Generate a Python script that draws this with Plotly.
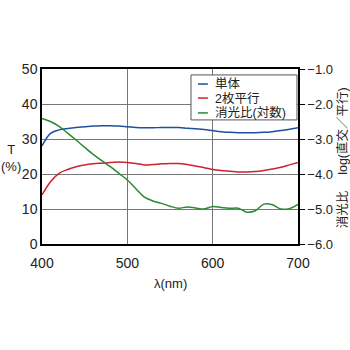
import plotly.graph_objects as go

wavelength = [400, 410, 420, 430, 440, 450, 460, 470, 480, 490, 500, 510, 520, 530, 540, 550, 560,
              570, 580, 590, 600, 610, 620, 630, 640, 650, 660, 670, 680, 690, 700]
single = [28.0, 31.6, 32.6, 33.0, 33.3, 33.5, 33.7, 33.8, 33.8, 33.7, 33.5, 33.3, 33.2, 33.2, 33.3, 33.3, 33.3,
          33.1, 32.9, 32.7, 32.4, 32.1, 31.9, 31.8, 31.8, 31.8, 31.9, 32.1, 32.4, 32.8, 33.2]
parallel = [14.0, 17.8, 20.2, 21.3, 22.1, 22.6, 22.9, 23.1, 23.3, 23.4, 23.3, 23.0, 22.6, 22.7, 22.9, 23.0, 23.0,
            22.7, 22.3, 21.8, 21.3, 21.0, 20.8, 20.6, 20.6, 20.7, 21.0, 21.4, 21.9, 22.6, 23.3]
extinction = [-2.41, -2.50, -2.64, -2.83, -3.03, -3.24, -3.44, -3.62, -3.79, -3.98, -4.17, -4.42, -4.66, -4.77,
              -4.84, -4.92, -4.98, -4.94, -4.97, -5.00, -4.93, -4.96, -4.98, -4.98, -5.09, -5.05, -4.86, -4.88,
              -5.00, -4.99, -4.87]

series_names = ["単体", "2枚平行", "消光比(対数)"]
series_colors = ["#1f4fa0", "#d1202e", "#2a8a35"]

left_ticks = [0, 10, 20, 30, 40, 50]
right_ticks = [-6.0, -5.0, -4.0, -3.0, -2.0, -1.0]
x_ticks = [400, 500, 600, 700]

font = "Liberation Sans, Arial, Noto Sans CJK JP, sans-serif"

fig = go.Figure()
fig.add_trace(go.Scatter(x=wavelength, y=single, mode="lines", name=series_names[0],
                         line=dict(color=series_colors[0], width=1.5, shape="spline")))
fig.add_trace(go.Scatter(x=wavelength, y=parallel, mode="lines", name=series_names[1],
                         line=dict(color=series_colors[1], width=1.5, shape="spline")))
fig.add_trace(go.Scatter(x=wavelength, y=extinction, mode="lines", name=series_names[2], yaxis="y2",
                         line=dict(color=series_colors[2], width=1.5, shape="spline")))

# compact legend box (like the reference)
shapes = [dict(type="rect", xref="paper", yref="paper", x0=0.582, x1=0.996, y0=0.709, y1=0.966,
               fillcolor="white", line=dict(color="#555", width=1), layer="above")]
annotations = []
row_y = [0.914, 0.834, 0.749]
for name, color, yy in zip(series_names, series_colors, row_y):
    shapes.append(dict(type="line", xref="paper", yref="paper", x0=0.609, x1=0.648, y0=yy, y1=yy,
                       line=dict(color=color, width=1.5), layer="above"))
    annotations.append(dict(text=name, xref="paper", yref="paper", x=0.668, y=yy, showarrow=False,
                            xanchor="left", yanchor="middle", font=dict(size=12.5)))

annotations += [
    dict(text="λ(nm)", xref="paper", yref="paper", x=0.5, y=-0.225, showarrow=False,
         font=dict(size=13), xanchor="center", yanchor="middle"),
    dict(text="T<br>(%)", xref="paper", x=-0.12, yref="y", y=24.5, showarrow=False,
         font=dict(size=13), xanchor="center", yanchor="middle"),
    dict(text="消光比　 log(直交／平行)", xref="paper", x=1.172, yref="paper", y=0.49,
         showarrow=False, textangle=-90, font=dict(size=12.5), xanchor="center", yanchor="middle"),
]

fig.update_layout(
    width=350, height=350,
    margin=dict(l=42, r=52, t=69, b=106),
    paper_bgcolor="white", plot_bgcolor="white",
    font=dict(family=font, size=14, color="#222"),
    showlegend=False,
    xaxis=dict(range=[400, 700], tickvals=x_ticks, showgrid=True, gridcolor="#777", gridwidth=1,
               showline=True, linecolor="black", linewidth=1.5, mirror=True, ticks="", zeroline=False,
               ticklabelstandoff=5),
    yaxis=dict(range=[0, 50], tickvals=left_ticks, showgrid=True, gridcolor="#777", gridwidth=1,
               showline=True, linecolor="black", linewidth=1.5, mirror=True, ticks="", zeroline=False),
    yaxis2=dict(range=[-6, -1], tickvals=right_ticks, tickformat=".1f", overlaying="y", side="right",
                showgrid=False, ticks="outside", ticklen=5, tickcolor="black", zeroline=False,
                showline=True, linecolor="black", linewidth=1.5, tickfont=dict(size=13)),
    shapes=shapes,
    annotations=annotations,
)

fig.write_html("out.html")
